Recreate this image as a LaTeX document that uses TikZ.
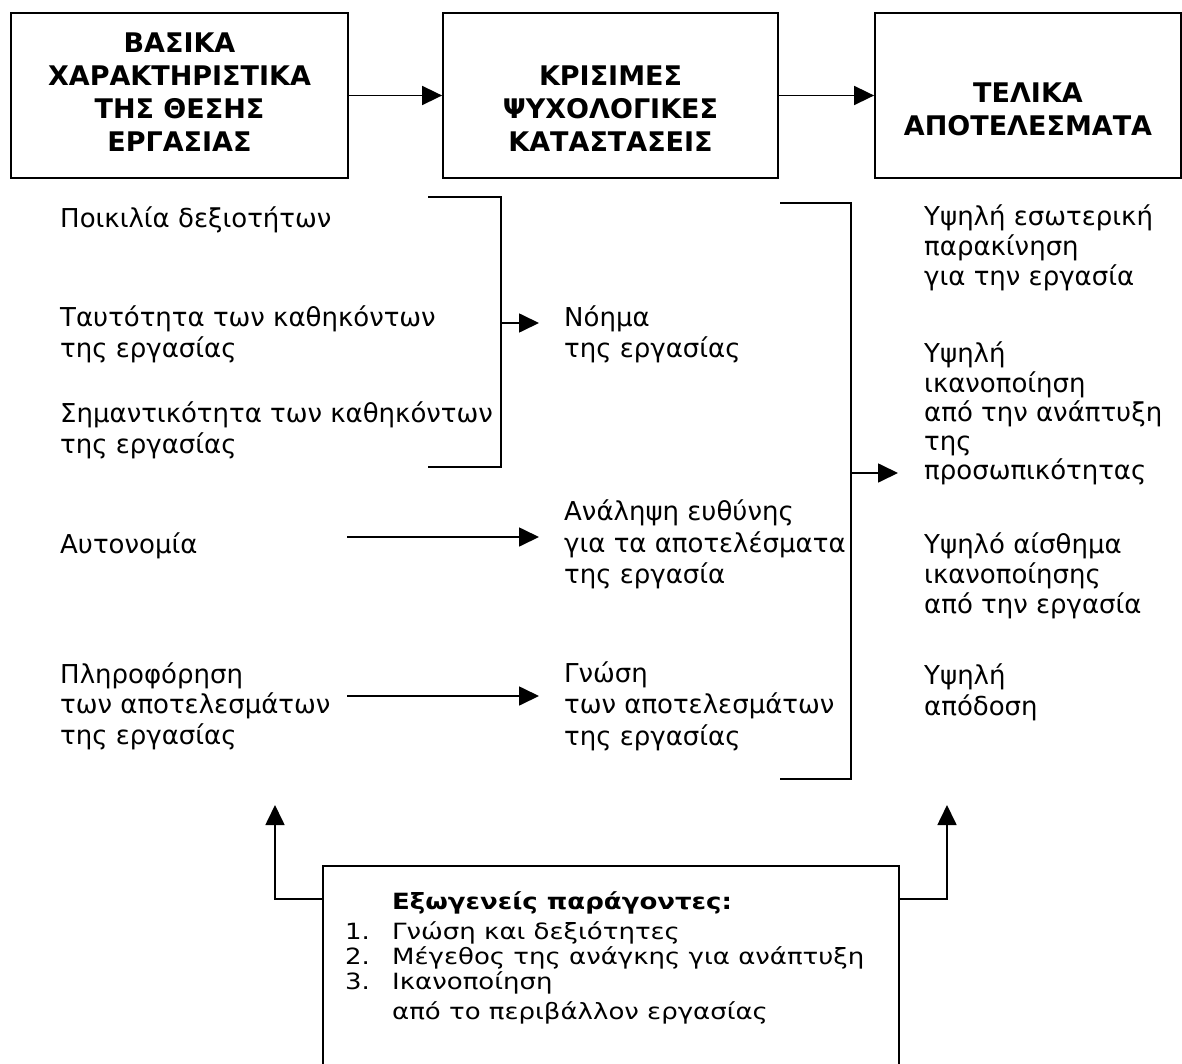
\documentclass[tikz,border=0pt]{standalone}
\usepackage{fontspec}
\setmainfont{DejaVu Sans}
\usetikzlibrary{arrows.meta}
\newcommand{\squeeze}[1]{\scalebox{1}[0.86]{#1}}
\tikzset{
  txt/.style={anchor=base west, inner sep=0pt, font=\fontsize{26}{31}\selectfont},
  btxt/.style={txt, font=\fontsize{26}{31}\selectfont\bfseries},
  hbox/.style={draw, line width=1.8pt, inner sep=0pt, align=center,
    font=\fontsize{27}{33}\selectfont\bfseries},
  conn/.style={line width=1.7pt},
  arr/.style={conn, -{Triangle[length=20pt,width=19pt]}},
}
\begin{document}
\begin{tikzpicture}[x=1pt,y=-1pt]
\useasboundingbox (0,0) rectangle (1182,1064);

% header boxes
\node[hbox, minimum width=337pt, minimum height=165pt] (b1) at (179.5,95.5)
  {\begin{tabular}{@{}c@{}}ΒΑΣΙΚΑ\\ΧΑΡΑΚΤΗΡΙΣΤΙΚΑ\\ΤΗΣ ΘΕΣΗΣ\\ΕΡΓΑΣΙΑΣ\end{tabular}};
\node[hbox, minimum width=335pt, minimum height=165pt] (b2) at (610.5,95.5)
  {\begin{tabular}{@{}c@{}}\\ΚΡΙΣΙΜΕΣ\\ΨΥΧΟΛΟΓΙΚΕΣ\\ΚΑΤΑΣΤΑΣΕΙΣ\end{tabular}};
\node[hbox, minimum width=306pt, minimum height=165pt] (b3) at (1028,95.5)
  {\begin{tabular}{@{}c@{}}\\ΤΕΛΙΚΑ\\ΑΠΟΤΕΛΕΣΜΑΤΑ\\ \end{tabular}};
\draw[arr] (b1.east) -- (b2.west);
\draw[arr] (b2.east) -- (b3.west);

% left column
\node[txt] (l1) at (60,228) {Ποικιλία δεξιοτήτων};
\node[txt] (l2a) at (60,326) {Ταυτότητα των καθηκόντων};
\node[txt] (l2b) at (60,357) {της εργασίας};
\node[txt] (l3a) at (60,422) {Σημαντικότητα των καθηκόντων};
\node[txt] (l3b) at (60,453) {της εργασίας};
\node[txt] (l4) at (60,553) {Αυτονομία};
\node[txt] (l5a) at (60,683) {Πληροφόρηση};
\node[txt] (l5b) at (60,713) {των αποτελεσμάτων};
\node[txt] (l5c) at (60,744) {της εργασίας};

% middle column
\node[txt] (m1a) at (564,326) {Νόημα};
\node[txt] (m1b) at (564,357) {της εργασίας};
\node[txt] (m2a) at (564,520) {Ανάληψη ευθύνης};
\node[txt] (m2b) at (564,552) {για τα αποτελέσματα};
\node[txt] (m2c) at (564,583) {της εργασία};
\node[txt] (m3a) at (564,682) {Γνώση};
\node[txt] (m3b) at (564,713) {των αποτελεσμάτων};
\node[txt] (m3c) at (564,745) {της εργασίας};

% right column
\node[txt] (r1a) at (924,226) {Υψηλή εσωτερική};
\node[txt] (r1b) at (924,256) {παρακίνηση};
\node[txt] (r1c) at (924,286) {για την εργασία};
\node[txt] (r2a) at (924,362) {Υψηλή};
\node[txt] (r2b) at (924,392) {ικανοποίηση};
\node[txt] (r2c) at (924,421) {από την ανάπτυξη};
\node[txt] (r2d) at (924,450) {της};
\node[txt] (r2e) at (924,479) {προσωπικότητας};
\node[txt] (r3a) at (924,553) {Υψηλό αίσθημα};
\node[txt] (r3b) at (924,583) {ικανοποίησης};
\node[txt] (r3c) at (924,613) {από την εργασία};
\node[txt] (r4a) at (924,684) {Υψηλή};
\node[txt] (r4b) at (924,715) {απόδοση};

% left bracket
\coordinate (lb1) at (428,197);
\coordinate (lb2) at (501,197);
\coordinate (lb3) at (501,467);
\coordinate (lb4) at (428,467);
\coordinate (lbm) at (501,323);
\coordinate (lbt) at (539,323);
\draw[conn] (lb1) -- (lb2) -- (lb3) -- (lb4);
\draw[arr] (lbm) -- (lbt);

% single arrows
\coordinate (a1s) at (347,537);
\coordinate (a1e) at (539,537);
\coordinate (a2s) at (347,696);
\coordinate (a2e) at (539,696);
\draw[arr] (a1s) -- (a1e);
\draw[arr] (a2s) -- (a2e);

% right bracket
\coordinate (rb1) at (780,203);
\coordinate (rb2) at (851,203);
\coordinate (rb3) at (851,779);
\coordinate (rb4) at (780,779);
\coordinate (rbm) at (851,473);
\coordinate (rbt) at (898,473);
\draw[conn] (rb1) -- (rb2) -- (rb3) -- (rb4);
\draw[arr] (rbm) -- (rbt);

% bottom box
\node[draw, line width=1.8pt, minimum width=576pt, minimum height=224pt, inner sep=0pt] (ex) at (611,978) {};
\node[btxt] (exh) at (392,909) {\squeeze{Εξωγενείς παράγοντες:}};
\node[txt] (n1) at (345,939) {\squeeze{1.}};
\node[txt] (e1) at (392,939) {\squeeze{Γνώση και δεξιότητες}};
\node[txt] (n2) at (345,964) {\squeeze{2.}};
\node[txt] (e2) at (392,964) {\squeeze{Μέγεθος της ανάγκης για ανάπτυξη}};
\node[txt] (n3) at (345,989) {\squeeze{3.}};
\node[txt] (e3) at (392,989) {\squeeze{Ικανοποίηση}};
\node[txt] (e4) at (392,1019) {\squeeze{από το περιβάλλον εργασίας}};

\coordinate (ul) at (275,805);
\coordinate (ur) at (947,805);
\draw[arr] (ex.west |- 0,899) -| (ul);
\draw[arr] (ex.east |- 0,899) -| (ur);
\end{tikzpicture}
\end{document}
